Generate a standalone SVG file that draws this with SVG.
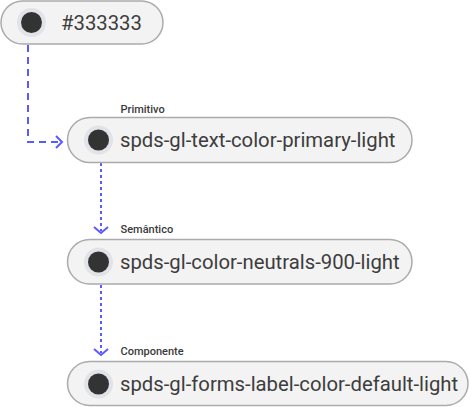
<svg xmlns="http://www.w3.org/2000/svg" width="470" height="407" viewBox="0 0 470 407">
<defs>
<style>
.pill{fill:#f3f3f3;stroke:#ababab;stroke-width:1.5}
.ring{fill:#e1e3e8}
.dot{fill:#333333}
.t{font-family:Roboto,"Liberation Sans",sans-serif;font-size:20.3px;fill:#3d3d3d}
.lbl{font-family:Roboto,"Liberation Sans",sans-serif;font-size:11px;font-weight:500;fill:#3a3a3a}
.c{fill:none;stroke:#5a5aff;stroke-width:2}
.dash{stroke-dasharray:7 5}
.dot2{stroke-dasharray:3 3}
.ah{fill:none;stroke:#5a5aff;stroke-width:2;stroke-linejoin:miter}
</style>
</defs>
<rect width="470" height="407" fill="#ffffff"/>
<g id="connectors">
<path class="c dash" d="M28 45 V142 H60"/>
<path class="ah" d="M56 136 L62 142 L56 148"/>
<path class="c dot2" d="M101 163 V231"/>
<path class="ah" d="M94 227 L101 233 L108 227"/>
<path class="c dot2" d="M101 285 V353"/>
<path class="ah" d="M94 349 L101 355 L108 349"/>
</g>
<g id="node-hex">
<rect class="pill" x="1" y="1" width="162" height="43" rx="21.5"/>
<circle class="ring" cx="31.5" cy="22.5" r="14.5"/>
<circle class="dot" cx="31.5" cy="22.5" r="10.5"/>
<text class="t" x="61" y="29.5">#333333</text>
</g>
<g id="node-primitivo">
<text class="lbl" x="120.5" y="112.5">Primitivo</text>
<rect class="pill" x="67.5" y="117.5" width="344.5" height="45" rx="22.5"/>
<circle class="ring" cx="98.5" cy="140" r="14.5"/>
<circle class="dot" cx="98.5" cy="140" r="10.5"/>
<text class="t" x="120" y="147">spds-gl-text-color-primary-light</text>
</g>
<g id="node-semantico">
<text class="lbl" x="120.5" y="232.5">Semântico</text>
<rect class="pill" x="67.5" y="239.5" width="344.5" height="44.5" rx="22.25"/>
<circle class="ring" cx="98.5" cy="262" r="14.5"/>
<circle class="dot" cx="98.5" cy="262" r="10.5"/>
<text class="t" x="120" y="269">spds-gl-color-neutrals-900-light</text>
</g>
<g id="node-componente">
<text class="lbl" x="120.5" y="354.5">Componente</text>
<rect class="pill" x="67.5" y="361.5" width="400.5" height="44" rx="22"/>
<circle class="ring" cx="98.5" cy="384" r="14.5"/>
<circle class="dot" cx="98.5" cy="384" r="10.5"/>
<text class="t" x="120" y="391">spds-gl-forms-label-color-default-light</text>
</g>
</svg>
